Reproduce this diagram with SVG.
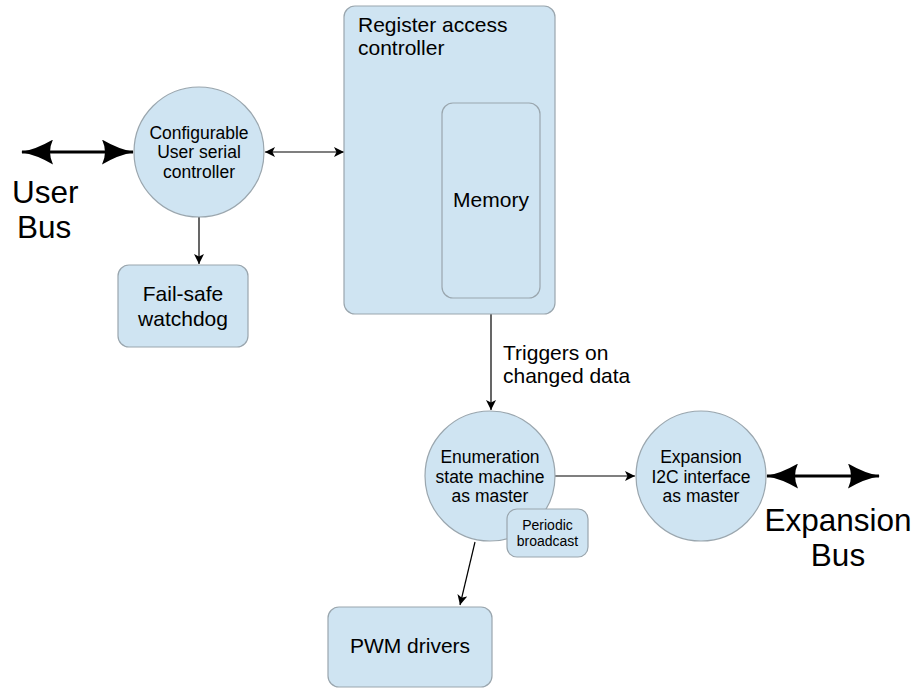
<svg xmlns="http://www.w3.org/2000/svg" width="919" height="688" viewBox="0 0 919 688">
<defs>
<style>
.n{fill:#cfe4f2;stroke:#9aa6ae;stroke-width:1.2}
.t{font-family:"Liberation Sans",Arial,sans-serif;fill:#000}
.s{font-size:17.5px;text-anchor:middle}
.m{font-size:21px}
.l{font-size:31.5px}
.c{stroke:#000;stroke-width:1.2;fill:none}
.b{stroke:#000;stroke-width:3;fill:none}
</style>
<marker id="a" viewBox="0 0 10 10" refX="10" refY="5" markerWidth="10" markerHeight="10" markerUnits="userSpaceOnUse" orient="auto-start-reverse">
<path d="M0,0 L10,5 L0,10 L2.5,5 Z" fill="#000"/>
</marker>
<marker id="B" viewBox="0 0 32 25" refX="31" refY="12.5" markerWidth="32" markerHeight="25" markerUnits="userSpaceOnUse" orient="auto-start-reverse">
<path d="M0,0 Q16,9.5 32,12.5 Q16,15.5 0,25 Q6,12.5 0,0 Z" fill="#000"/>
</marker>
</defs>
<rect width="919" height="688" fill="#fff"/>
<g id="connectors">
<line class="b" x1="22" y1="152" x2="133" y2="152" marker-start="url(#B)" marker-end="url(#B)"/>
<line class="c" x1="265" y1="152" x2="344" y2="152" marker-start="url(#a)" marker-end="url(#a)"/>
<line class="c" x1="199" y1="217" x2="199" y2="264" marker-end="url(#a)"/>
<line class="c" x1="491" y1="314" x2="491" y2="410" marker-end="url(#a)"/>
<line class="c" x1="555" y1="476" x2="635" y2="476" marker-end="url(#a)"/>
<line class="b" x1="767" y1="476" x2="879" y2="476" marker-start="url(#B)" marker-end="url(#B)"/>
<line class="c" x1="475" y1="542" x2="460" y2="605" marker-end="url(#a)"/>
<text class="t m" x="503" y="360">Triggers on</text>
<text class="t m" x="503" y="383">changed data</text>
</g>
<g id="userbus">
<text class="t l" x="12" y="203">User</text>
<text class="t l" x="17" y="238">Bus</text>
</g>
<g id="expbus">
<text class="t l" x="838" y="531" text-anchor="middle">Expansion</text>
<text class="t l" x="838" y="566" text-anchor="middle">Bus</text>
</g>
<g id="usc">
<circle class="n" cx="199" cy="152" r="65"/>
<text class="t s" x="199" y="139">Configurable</text>
<text class="t s" x="199" y="158">User serial</text>
<text class="t s" x="199" y="178">controller</text>
</g>
<g id="watchdog">
<rect class="n" x="118" y="265" width="130" height="82" rx="11"/>
<text class="t m" x="183" y="301" text-anchor="middle">Fail-safe</text>
<text class="t m" x="183" y="326" text-anchor="middle">watchdog</text>
</g>
<g id="rac">
<rect class="n" x="344" y="6" width="211" height="308" rx="11"/>
<text class="t m" x="358" y="32">Register access</text>
<text class="t m" x="358" y="55">controller</text>
</g>
<g id="memory">
<rect class="n" x="442" y="103" width="98" height="195" rx="11"/>
<text class="t m" x="491" y="207" text-anchor="middle">Memory</text>
</g>
<g id="enum">
<circle class="n" cx="490" cy="476" r="65"/>
<text class="t s" x="490" y="463">Enumeration</text>
<text class="t s" x="490" y="483">state machine</text>
<text class="t s" x="490" y="502">as master</text>
</g>
<g id="periodic">
<rect class="n" x="507" y="509" width="81" height="48" rx="10"/>
<text class="t" x="547.5" y="530" font-size="14" text-anchor="middle">Periodic</text>
<text class="t" x="547.5" y="546" font-size="14" text-anchor="middle">broadcast</text>
</g>
<g id="i2c">
<circle class="n" cx="701" cy="476" r="65"/>
<text class="t s" x="701" y="463">Expansion</text>
<text class="t s" x="701" y="483">I2C interface</text>
<text class="t s" x="701" y="502">as master</text>
</g>
<g id="pwm">
<rect class="n" x="328" y="607" width="164" height="80" rx="11"/>
<text class="t m" x="410" y="653" text-anchor="middle">PWM drivers</text>
</g>
</svg>
